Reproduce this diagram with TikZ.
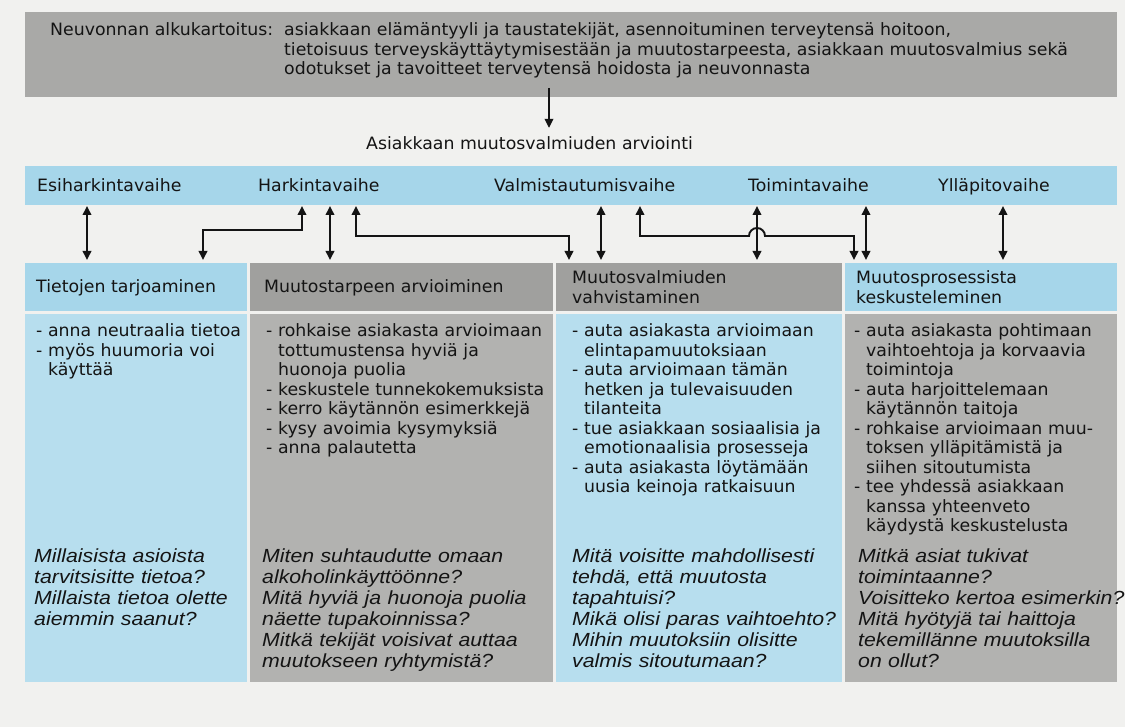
\documentclass[tikz,border=0pt]{standalone}
\usepackage{fontspec}
\setmainfont{DejaVu Sans}[FakeStretch=1.02]
\newfontfamily\qfont{Liberation Sans}[FakeStretch=1.12]
\usetikzlibrary{arrows.meta}
\definecolor{bg}{HTML}{F1F1EF}
\definecolor{bandblue}{HTML}{A6D6EA}
\definecolor{hdrblue}{HTML}{A6D6EA}
\definecolor{cellblue}{HTML}{B7DEEE}
\definecolor{hdrgray}{HTML}{A0A09E}
\definecolor{cellgray}{HTML}{B2B2B0}
\definecolor{topgray}{HTML}{A9A9A7}
\definecolor{ink}{HTML}{141414}
\newcommand\bodyfont{\fontsize{17}{19.5}\selectfont}
\newcommand\qsfont{\qfont\itshape\fontsize{19}{21}\selectfont}
\newcommand\ind{\hphantom{- }}
\begin{document}
\begin{tikzpicture}[x=1pt,y=-1pt,
  cell/.style={anchor=north west, inner sep=0pt, outer sep=0pt, draw=none},
  lbl/.style={anchor=base west, inner sep=0pt, text=ink, font=\bodyfont},
  para/.style={anchor=base west, inner sep=0pt, text=ink, font=\bodyfont, align=left, text width=#1},
  ques/.style={anchor=base west, inner sep=0pt, text=ink, font=\qsfont, align=left, text width=#1},
  link/.style={draw=ink, line width=1.9pt, arrows={Triangle[length=9pt,width=8.5pt]-Triangle[length=9pt,width=8.5pt]}, shorten <=1pt, shorten >=3pt},
  one/.style={draw=ink, line width=1.9pt, arrows={-Triangle[length=9pt,width=8.5pt]}}
]
\fill[bg] (0,0) rectangle (1125,727);
\useasboundingbox (0,0) rectangle (1125,727);

% boxes
\node[cell, fill=topgray, minimum width=1092pt, minimum height=85pt] (top) at (25,12) {};
\node[cell, fill=bandblue, minimum width=1092pt, minimum height=39pt] (band) at (25,166) {};
\node[cell, fill=hdrblue, minimum width=222pt, minimum height=48pt] (h1) at (25,263) {};
\node[cell, fill=hdrgray, minimum width=303pt, minimum height=48pt] (h2) at (250,263) {};
\node[cell, fill=hdrgray, minimum width=286pt, minimum height=48pt] (h3) at (556,263) {};
\node[cell, fill=hdrblue, minimum width=272pt, minimum height=48pt] (h4) at (845,263) {};
\node[cell, fill=cellblue, minimum width=222pt, minimum height=368pt] (b1) at (25,314) {};
\node[cell, fill=cellgray, minimum width=303pt, minimum height=368pt] (b2) at (250,314) {};
\node[cell, fill=cellblue, minimum width=286pt, minimum height=368pt] (b3) at (556,314) {};
\node[cell, fill=cellgray, minimum width=272pt, minimum height=368pt] (b4) at (845,314) {};

% top text
\node[lbl] (toptext) at (50,36) {\makebox[234pt][l]{Neuvonnan alkukartoitus:}\parbox[t]{830pt}{\bodyfont asiakkaan elämäntyyli ja taustatekijät, asennoituminen terveytensä hoitoon,\\tietoisuus terveyskäyttäytymisestään ja muutostarpeesta, asiakkaan muutosvalmius sekä\\odotukset ja tavoitteet terveytensä hoidosta ja neuvonnasta}};

\node[lbl] (arv) at (366,150) {Asiakkaan muutosvalmiuden arviointi};

% stage labels
\node[lbl] (s1) at (37,192) {Esiharkintavaihe};
\node[lbl] (s2) at (258,192) {Harkintavaihe};
\node[lbl] (s3) at (494,192) {Valmistautumisvaihe};
\node[lbl] (s4) at (748,192) {Toimintavaihe};
\node[lbl] (s5) at (938,192) {Ylläpitovaihe};

% headers
\node[lbl] (t1) at (36,293) {Tietojen tarjoaminen};
\node[lbl] (t2) at (264,293) {Muutostarpeen arvioiminen};
\node[para=260pt] (t3) at (572,284) {Muutosvalmiuden\\vahvistaminen};
\node[para=250pt] (t4) at (856,284) {Muutosprosessista\\keskusteleminen};

% bullet texts
\node[para=205pt] (p1) at (36,337) {- anna neutraalia tietoa\\- myös huumoria voi\\\ind käyttää};
\node[para=290pt] (p2) at (266,337) {- rohkaise asiakasta arvioimaan\\\ind tottumustensa hyviä ja\\\ind huonoja puolia\\- keskustele tunnekokemuksista\\- kerro käytännön esimerkkejä\\- kysy avoimia kysymyksiä\\- anna palautetta};
\node[para=270pt] (p3) at (572,337) {- auta asiakasta arvioimaan\\\ind elintapamuutoksiaan\\- auta arvioimaan tämän\\\ind hetken ja tulevaisuuden\\\ind tilanteita\\- tue asiakkaan sosiaalisia ja\\\ind emotionaalisia prosesseja\\- auta asiakasta löytämään\\\ind uusia keinoja ratkaisuun};
\node[para=260pt] (p4) at (854,337) {- auta asiakasta pohtimaan\\\ind vaihtoehtoja ja korvaavia\\\ind toimintoja\\- auta harjoittelemaan\\\ind käytännön taitoja\\- rohkaise arvioimaan muu-\\\ind toksen ylläpitämistä ja\\\ind siihen sitoutumista\\- tee yhdessä asiakkaan\\\ind kanssa yhteenveto\\\ind käydystä keskustelusta};

% questions
\node[ques=210pt] (q1) at (34,562) {Millaisista asioista\\tarvitsisitte tietoa?\\Millaista tietoa olette\\aiemmin saanut?};
\node[ques=290pt] (q2) at (262,562) {Miten suhtaudutte omaan\\alkoholinkäyttöönne?\\Mitä hyviä ja huonoja puolia\\näette tupakoinnissa?\\Mitkä tekijät voisivat auttaa\\muutokseen ryhtymistä?};
\node[ques=280pt] (q3) at (572,562) {Mitä voisitte mahdollisesti\\tehdä, että muutosta\\tapahtuisi?\\Mikä olisi paras vaihtoehto?\\Mihin muutoksiin olisitte\\valmis sitoutumaan?};
\node[ques=280pt] (q4) at (858,562) {Mitkä asiat tukivat\\toimintaanne?\\Voisitteko kertoa esimerkin?\\Mitä hyötyjä tai haittoja\\tekemillänne muutoksilla\\on ollut?};

% connector columns
\coordinate (c0) at (549,0);
\coordinate (c1) at (87,0);
\coordinate (c2) at (302,0);
\coordinate (c2b) at (203,0);
\coordinate (c3) at (330,0);
\coordinate (c4) at (356,0);
\coordinate (c4b) at (569,0);
\coordinate (c5) at (601,0);
\coordinate (c6) at (640,0);
\coordinate (c6b) at (854,0);
\coordinate (c7) at (757,0);
\coordinate (c8) at (866,0);
\coordinate (c9) at (1003,0);
\coordinate (ya) at (0,230);
\coordinate (yb) at (0,236);
\coordinate (hopL) at (749,236);

% connectors
\draw[one, shorten <=-9pt, shorten >=9pt] (c0 |- top.south) -- (c0 |- arv.north);
\draw[link] (c1 |- band.south) -- (c1 |- h1.north);
\draw[link] (c2 |- band.south) -- (c2 |- ya) -- (c2b |- ya) -- (c2b |- h1.north);
\draw[link] (c3 |- band.south) -- (c3 |- h2.north);
\draw[link] (c4 |- band.south) -- (c4 |- yb) -- (c4b |- yb) -- (c4b |- h3.north);
\draw[link] (c5 |- band.south) -- (c5 |- h3.north);
\draw[link] (c6 |- band.south) -- (c6 |- yb) -- (hopL) arc[start angle=180, end angle=360, radius=8] -- (c6b |- yb) -- (c6b |- h4.north);
\draw[link] (c7 |- band.south) -- (c7 |- h3.north);
\draw[link] (c8 |- band.south) -- (c8 |- h4.north);
\draw[link] (c9 |- band.south) -- (c9 |- h4.north);
\end{tikzpicture}
\end{document}
